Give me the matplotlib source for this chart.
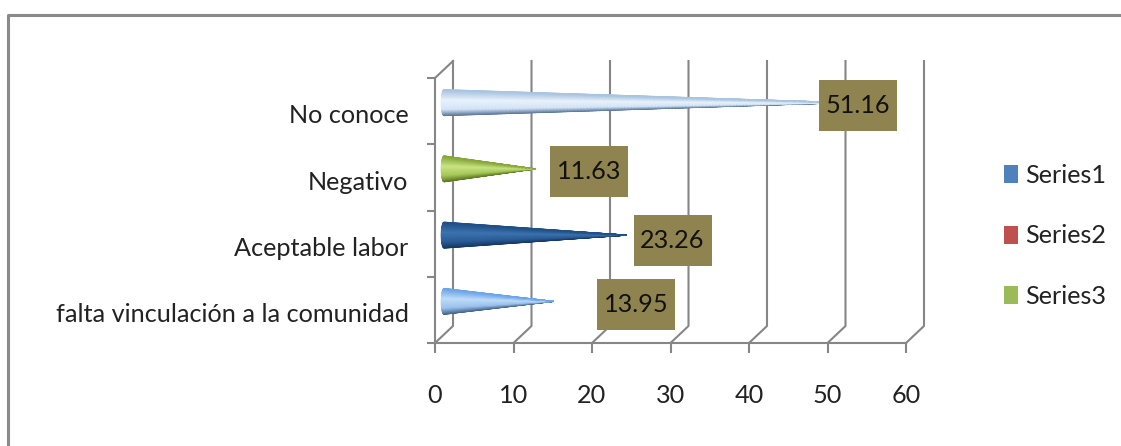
import numpy as np
import matplotlib
matplotlib.use("Agg")
import matplotlib.pyplot as plt
from matplotlib.colors import LinearSegmentedColormap
from matplotlib.lines import Line2D
from matplotlib.patches import Patch, Rectangle
from matplotlib.transforms import ScaledTranslation

categories = ["falta vinculación a la comunidad", "Aceptable labor", "Negativo", "No conoce"]
values = [13.95, 23.26, 11.63, 51.16]
x_ticks = [0, 10, 20, 30, 40, 50, 60]
series_names = ["Series1", "Series2", "Series3"]
series_colors = ["#4f81bd", "#c0504d", "#9bbb59"]

# cone shading, top edge to bottom edge
cone_shades = [
    ["#6aa5e8", "#c2def9", "#9cc3ee", "#46648c"],
    ["#1f4f86", "#3d74b0", "#2b5c96", "#143861"],
    ["#86a638", "#cbe786", "#a8c95a", "#5d7a22"],
    ["#a8c4e0", "#eaf3fc", "#d3e5f7", "#58749a"],
]
# label box centres, relative to the value, in data units
label_dx = [11.65, 7.0, 7.99, 2.7]
label_dy = [-0.053, -0.083, -0.04, -0.05]

W, H = 1121, 446
GRID = "#868686"
TEXT = "#222222"
FS = 18.2
plt.rcParams["font.family"] = ["Lato", "DejaVu Sans"]

fig = plt.figure(figsize=(W / 100, H / 100), dpi=100)
ax = fig.add_axes([435 / W, 1 - 343 / H, (906 - 435) / W, (343 - 78) / H])
ax.set_xlim(0, 60)
ax.set_ylim(0, 4)
ax.patch.set_alpha(0)

# depth of the 3d box in data units
dx = 18 / 7.85
dy = 17 / 66.25

# outer chart frame
fig.add_artist(Line2D([7.5 / W, 7.5 / W, 1], [0, 1 - 15 / H, 1 - 15 / H], color="#8a8a8a", lw=2.2))

for v in x_ticks:
    ax.plot([v, v + dx, v + dx], [0, dy, 4 + dy], color=GRID, lw=1.5, clip_on=False, zorder=1)
ax.plot([0, dx], [4, 4 + dy], color=GRID, lw=1.5, clip_on=False, zorder=1)

for i, v in enumerate(values):
    base = dx / 2
    tip = v + dx / 2
    yc = i + 0.5 + dy / 2
    r = 0.196
    s = np.linspace(-1, 1, 60)
    u = np.linspace(0, 1, 120)
    ss, uu = np.meshgrid(s, u)
    left = base - 0.35 * np.sqrt(1 - ss ** 2)
    X = left + uu * (tip - left)
    Y = yc + ss * r * np.clip((tip - X) / (tip - base), 0, 1)
    cmap = LinearSegmentedColormap.from_list("cone", list(zip([0, 0.25, 0.62, 1], cone_shades[i][::-1])))
    ax.pcolormesh(X, Y, (ss + 1) / 2, cmap=cmap, shading="gouraud", zorder=3, clip_on=False)

    cx = v + label_dx[i]
    cy = yc + label_dy[i]
    bw = 78 / 7.85
    bh = 51 / 66.25
    ax.add_patch(Rectangle((cx - bw / 2, cy - bh / 2), bw, bh, facecolor="#8f8450", edgecolor="none", zorder=4, clip_on=False))
    ax.text(cx, cy, f"{v:.2f}", ha="center", va="center", fontsize=FS, color="#111111", zorder=5)

for side in ["top", "right"]:
    ax.spines[side].set_visible(False)
for side in ["left", "bottom"]:
    ax.spines[side].set_color(GRID)
    ax.spines[side].set_linewidth(1.5)

ax.set_xticks(x_ticks)
ax.set_yticks([i + 0.5 for i in range(len(categories))])
ax.set_yticklabels(categories)
ax.set_yticks(range(len(categories) + 1), minor=True)
ax.tick_params(axis="x", length=7.2, width=1.5, color=GRID, labelsize=FS, labelcolor=TEXT, pad=22)
ax.tick_params(axis="y", which="major", length=0, labelsize=FS, labelcolor=TEXT, pad=19)
ax.tick_params(axis="y", which="minor", length=5.8, width=1.5, color=GRID)
# category labels sit a touch below the middle of each band
shift = ScaledTranslation(0, -2 / 72, fig.dpi_scale_trans)
for lab in ax.get_yticklabels():
    lab.set_transform(lab.get_transform() + shift)

handles = [Patch(facecolor=c, edgecolor="none", label=n) for c, n in zip(series_colors, series_names)]
fig.legend(handles=handles, loc="center left", bbox_to_anchor=(1004 / W, 1 - 236 / H), frameon=False,
           fontsize=FS, borderpad=0, borderaxespad=0, handlelength=0.55, handleheight=0.71,
           handletextpad=0.28, labelspacing=1.48, labelcolor=TEXT)

fig.savefig("out.png", dpi=100)
